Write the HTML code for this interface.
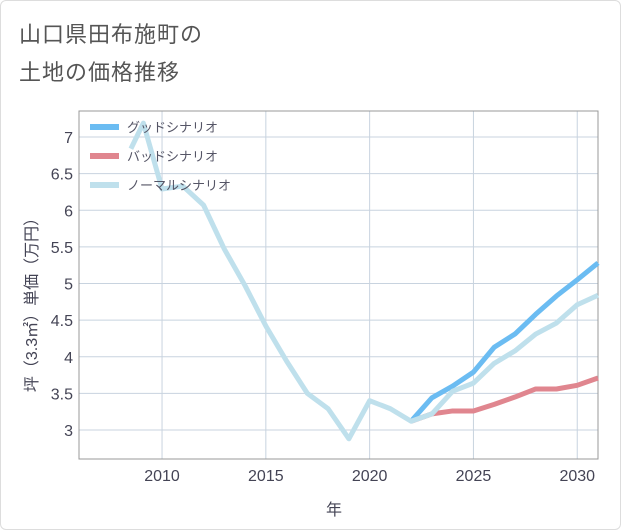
<!DOCTYPE html>
<html><head><meta charset="utf-8"><style>
body{margin:0;background:#fff;font-family:"Liberation Sans","Noto Sans CJK JP",sans-serif;}
#wrap{position:relative;width:619px;height:528px;border:1px solid #ddd;border-radius:6px;overflow:hidden;}
.title{position:absolute;left:18px;font-size:22px;color:#555;letter-spacing:1px;}
</style></head><body>
<div id="wrap">
<div class="title" style="top:16px">山口県田布施町の</div>
<div class="title" style="top:54px">土地の価格推移</div>
<svg id="chart" width="621" height="530" style="position:absolute;left:0;top:0"></svg>
</div>
<script>
const normalYears=[2008.5,2009.1,2010,2011,2012,2013,2014,2015,2016,2017,2018,2019,2020,2021,2022,2023,2024,2025,2026,2027,2028,2029,2030,2031];
const normalVals=[6.84,7.19,6.29,6.33,6.07,5.47,4.97,4.42,3.94,3.5,3.29,2.88,3.4,3.29,3.12,3.22,3.53,3.64,3.91,4.08,4.31,4.46,4.71,4.84];
const futureYears=[2022,2023,2024,2025,2026,2027,2028,2029,2030,2031];
const goodVals=[3.12,3.44,3.6,3.79,4.13,4.31,4.58,4.83,5.05,5.28];
const badVals=[3.12,3.22,3.26,3.26,3.35,3.45,3.56,3.56,3.61,3.71];
const xTicks=[2010,2015,2020,2025,2030];
const yTicks=[3,3.5,4,4.5,5,5.5,6,6.5,7];
const legendLabels=["グッドシナリオ","バッドシナリオ","ノーマルシナリオ"];
const colors=["#6bbcf2","#e0868f","#bfe0ec"];
const L=78,R=597,T=110,B=458;
const x=v=>L+(v-2006)/(2031-2006)*(R-L);
const y=v=>429-(v-3)*73.25;
const svg=document.getElementById('chart');
const NS='http://www.w3.org/2000/svg';
function mk(tag,attrs,parent){const e=document.createElementNS(NS,tag);for(const k in attrs)e.setAttribute(k,attrs[k]);(parent||svg).appendChild(e);return e;}
xTicks.forEach(t=>{const g=mk('line',{x1:x(t),x2:x(t),y1:T,y2:B,stroke:'#c8d3df','stroke-width':1});


const tx=mk('text',{x:x(t),y:480,'text-anchor':'middle','font-size':16,fill:'#445'});tx.textContent=t;

});
yTicks.forEach(t=>{const g=mk('line',{x1:L,x2:R,y1:y(t),y2:y(t),stroke:'#c8d3df','stroke-width':1});


const tx=mk('text',{x:72,y:y(t)+6,'text-anchor':'end','font-size':16,fill:'#445'});tx.textContent=t;

});
const frame=mk('rect',{x:L,y:T,width:R-L,height:B-T,fill:'none',stroke:'#999','stroke-width':1});


function line(xs,vs,c,name){const p=mk('polyline',{points:xs.map((v,i)=>x(v)+','+y(vs[i])).join(' '),fill:'none',stroke:c,'stroke-width':5,'stroke-linejoin':'round'});

}
line(futureYears,badVals,colors[1],'bad-scenario-line');
line(futureYears,goodVals,colors[0],'good-scenario-line');
line(normalYears,normalVals,colors[2],'normal-scenario-line');
legendLabels.forEach((s,i)=>{const yy=126+i*29;
const r=mk('rect',{x:89,y:yy-3,width:29,height:6,fill:colors[i]});


const tx=mk('text',{x:126,y:yy+5,'font-size':13,fill:'#556'});tx.textContent=s;

});
const xl=mk('text',{x:333,y:514,'text-anchor':'middle','font-size':16,fill:'#445'});xl.textContent='年';


const yl=mk('text',{x:0,y:0,'text-anchor':'middle','font-size':16,fill:'#445',transform:'translate(36,300) rotate(-90)'});yl.textContent='坪（3.3㎡）単価（万円）';


</script>
</body></html>
